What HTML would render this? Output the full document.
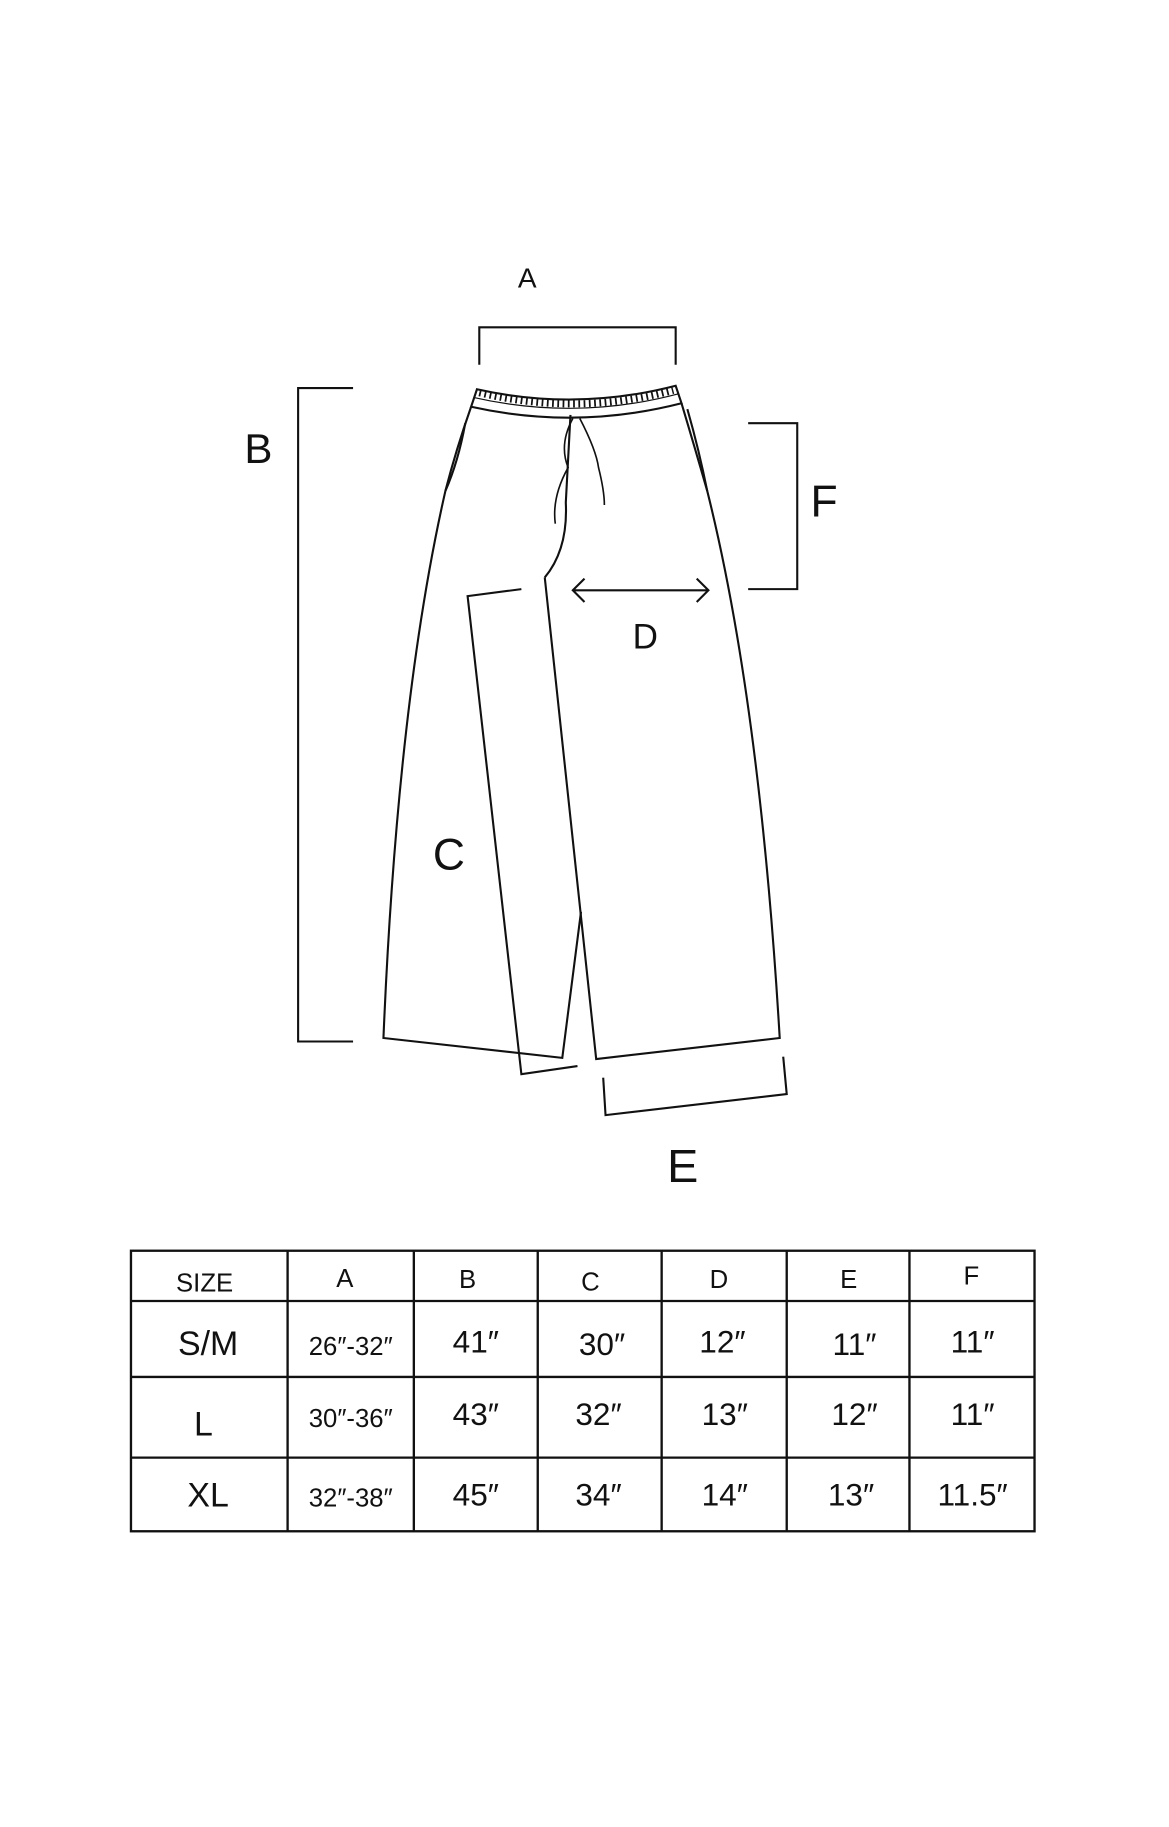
<!DOCTYPE html>
<html><head><meta charset="utf-8"><style>html,body{margin:0;padding:0;background:#fff}svg{display:block}</style></head>
<body>
<svg width="1169" height="1827" viewBox="0 0 1000 1563" xmlns="http://www.w3.org/2000/svg" font-family="Liberation Sans, sans-serif" fill="none" stroke="#111" stroke-width="1.8">
<!-- A -->
<path d="M410 312 V280 H578 V312"/>
<!-- B -->
<path d="M302 332 H255 V891 H302"/>
<!-- F -->
<path d="M640 362 H682 V504 H640"/>
<!-- D -->
<path d="M490 505 H606 M500 495 L490 505 L500 515 M596 495 L606 505 L596 515"/>
<!-- E -->
<path d="M516 922 L518 954 L673 936 L670 904"/>
<!-- back leg -->
<path d="M446 504 L400 510 L446 919 L494 912"/>
<!-- waistband -->
<path d="M408 333 Q493 352 578 330 L583 345 Q493 368 403 348 Z"/>
<path d="M405 340 Q493 360 580 337" stroke-width="1"/>
<path d="M410 336 Q493 356 576 334" stroke-width="6" stroke-dasharray="1.5 3"/>
<!-- left leg -->
<path d="M403 348 Q390 385 381 420 Q340 600 328 888 L481 905 L497 780"/>
<!-- right leg -->
<path d="M466 494 L510 906 L667 888 Q650 600 605 420 Q595 385 583 345"/>
<!-- fly -->
<path d="M466 494 Q486 470 484 430 Q486 390 488 355"/>
<!-- pockets -->
<path d="M398 362 Q392 395 381 420 M588 350 Q598 385 605 420"/>
<!-- drawstrings -->
<path d="M490 358 Q478 380 486 400 Q472 425 475 448 M496 358 Q510 385 512 400 Q517 420 517 432" stroke-width="1.4"/>
<g fill="#111" stroke="none" text-anchor="middle">
<text x="451" y="246" font-size="24">A</text>
<text x="221" y="396" font-size="36">B</text>
<text x="705" y="442" font-size="38">F</text>
<text x="552" y="555" font-size="30">D</text>
<text x="384" y="744" font-size="38">C</text>
<text x="584" y="1011" font-size="40">E</text>
</g>
<!-- table -->
<g stroke-width="2">
<rect x="112" y="1070" width="773" height="240"/>
<path d="M112 1113 H885 M112 1178 H885 M112 1247 H885 M246 1070 V1310 M354 1070 V1310 M460 1070 V1310 M566 1070 V1310 M673 1070 V1310 M778 1070 V1310"/>
</g>
<g fill="#111" stroke="none" text-anchor="middle">
<g font-size="22">
<text x="175" y="1105">SIZE</text><text x="295" y="1101">A</text><text x="400" y="1102">B</text><text x="505" y="1104">C</text><text x="615" y="1102">D</text><text x="726" y="1102">E</text><text x="831" y="1099">F</text>
</g>
<g font-size="27">
<text x="178" y="1159" font-size="29">S/M</text><text x="300" y="1159" font-size="22">26″-32″</text><text x="407" y="1157">41″</text><text x="515" y="1159">30″</text><text x="618" y="1157">12″</text><text x="731" y="1159">11″</text><text x="832" y="1157">11″</text>
<text x="174" y="1228" font-size="29">L</text><text x="300" y="1221" font-size="22">30″-36″</text><text x="407" y="1219">43″</text><text x="512" y="1219">32″</text><text x="620" y="1219">13″</text><text x="731" y="1219">12″</text><text x="832" y="1219">11″</text>
<text x="178" y="1289" font-size="29">XL</text><text x="300" y="1289" font-size="22">32″-38″</text><text x="407" y="1288">45″</text><text x="512" y="1288">34″</text><text x="620" y="1288">14″</text><text x="728" y="1288">13″</text><text x="832" y="1288">11.5″</text>
</g>
</g>
</svg>
</body></html>
